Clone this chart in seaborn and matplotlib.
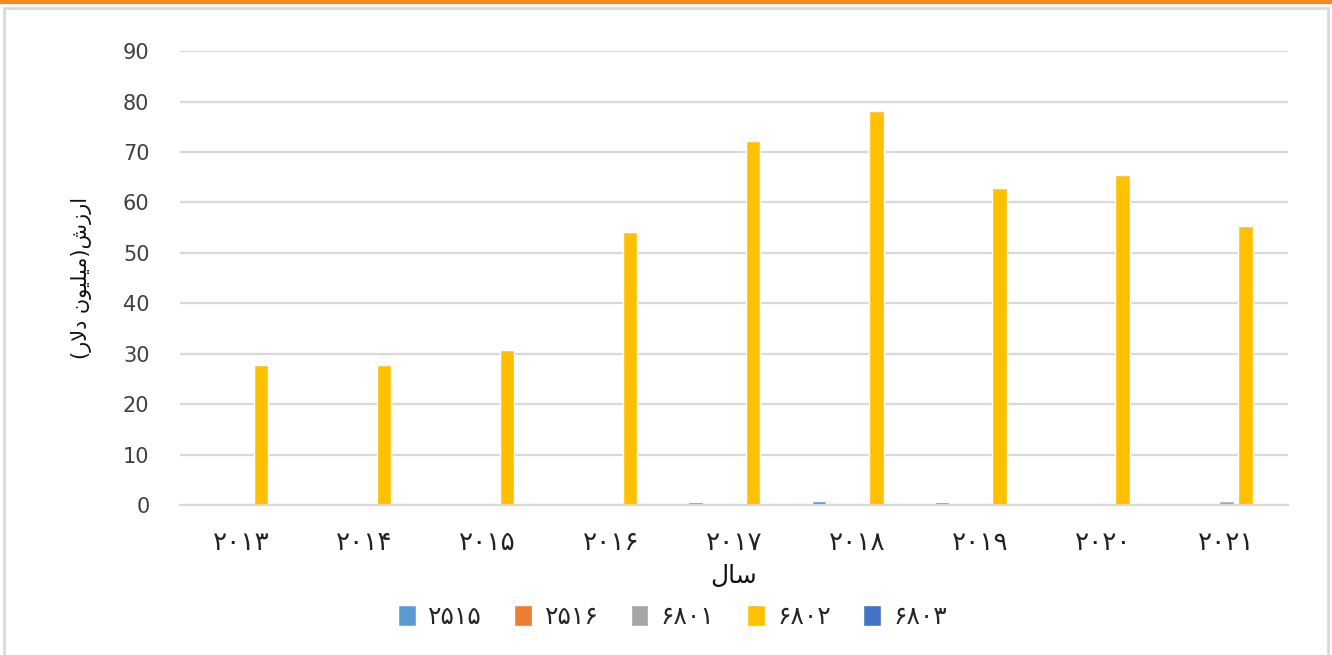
import pandas as pd
import numpy as np
import matplotlib
matplotlib.use('Agg')
import matplotlib.pyplot as plt
import seaborn as sns
from matplotlib.patches import Rectangle
from matplotlib.lines import Line2D

# years (persian digits) and HS codes
years = ['۲۰۱۳', '۲۰۱۴', '۲۰۱۵', '۲۰۱۶', '۲۰۱۷', '۲۰۱۸', '۲۰۱۹', '۲۰۲۰', '۲۰۲۱']
codes = ['۲۵۱۵', '۲۵۱۶', '۶۸۰۱', '۶۸۰۲', '۶۸۰۳']

# values in million dollars
v2515 = [0, 0, 0, 0, 0.5, 0.8, 0.5, 0, 0]
v2516 = [0, 0, 0, 0, 0, 0, 0, 0, 0]
v6801 = [0, 0, 0, 0, 0, 0, 0, 0, 0.8]
v6802 = [27.8, 27.8, 30.8, 54.2, 72.1, 78.2, 62.8, 65.4, 55.4]
v6803 = [0, 0, 0, 0, 0, 0, 0, 0, 0]

colors = ['#5B9BD5', '#ED7D31', '#A5A5A5', '#FFC000', '#4472C4']

# axis labels (arabic presentation forms, visual order)
xlab = '\uFEDD\uFE8E\uFEB3'
ylab = '(\uFEAD\uFEFB\uFEA9 \uFEE5\uFEEE\uFEF4\uFEE0\uFEF4\uFEE3)\uFEB5\uFEAF\uFEAD\uFE8D'

df = pd.DataFrame({
    'year': years * 5,
    'code': [c for c in codes for _ in years],
    'value': v2515 + v2516 + v6801 + v6802 + v6803,
})

sns.set_style('white')
plt.rcParams['font.family'] = ['DejaVu Sans']

fig = plt.figure(figsize=(13.32, 6.55), dpi=100)
ax = fig.add_axes([0.1351, 0.229, 0.8319, 0.693])

sns.barplot(data=df, x='year', y='value', hue='code', palette=colors,
            width=0.78, gap=0.25, ax=ax, errorbar=None, saturation=1)

ax.set_ylim(0, 90)
ax.set_yticks(np.arange(0, 91, 10))
ax.set_xlim(-0.5, 8.5)
ax.grid(axis='y', color='#D9D9D9', linewidth=1.6)
ax.set_axisbelow(True)
for s in ['top', 'right', 'left']:
    ax.spines[s].set_visible(False)
ax.spines['bottom'].set_color('#D9D9D9')
ax.spines['bottom'].set_linewidth(1.6)
ax.tick_params(axis='both', length=0, labelsize=15, colors='#404040')
ax.tick_params(axis='x', pad=18, labelsize=19, labelcolor='#222222')
ax.tick_params(axis='y', pad=22)

ax.set_xlabel(xlab, fontsize=18, labelpad=6, color='#111111')
ax.set_ylabel(ylab, fontsize=15, labelpad=22, color='#111111')

sns.move_legend(ax, 'lower center', bbox_to_anchor=(0.505, 0.005), bbox_transform=fig.transFigure,
                ncol=5, frameon=False, title=None, fontsize=18, handlelength=0.7,
                handleheight=0.9, handletextpad=0.5, columnspacing=1.3)

# orange top line and grey frame
fig.add_artist(Line2D([0, 1], [0.9975, 0.9975], transform=fig.transFigure, color='#F28A20', linewidth=3))
fig.add_artist(Rectangle((0.003, -0.01), 0.994, 0.998, transform=fig.transFigure,
                         fill=False, edgecolor='#D9D9D9', linewidth=2))

fig.savefig('out.png', dpi=100)
